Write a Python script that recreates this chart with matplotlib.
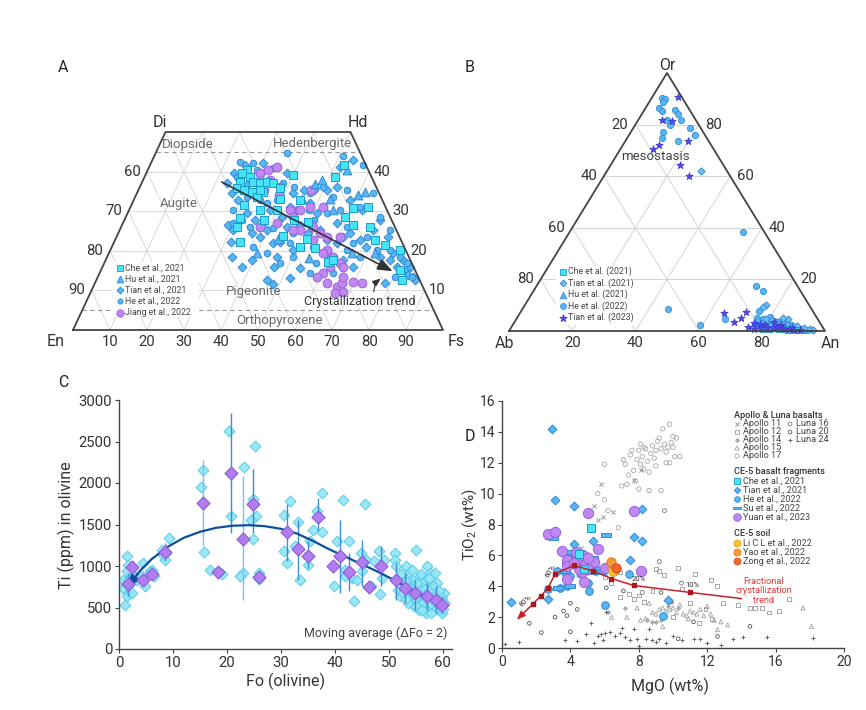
import matplotlib
matplotlib.use('Agg')
import matplotlib.pyplot as plt
import numpy as np
from matplotlib.patches import Rectangle

plt.rcParams['font.family'] = ['Roboto', 'DejaVu Sans']
plt.rcParams['mathtext.fontset'] = 'custom'
plt.rcParams['mathtext.rm'] = 'Roboto'
plt.rcParams['mathtext.it'] = 'Roboto:italic'
plt.rcParams['mathtext.bf'] = 'Roboto:bold'
TXT = '#333333'

# ===================== Panel A data (Wo, Fs in mol%) =====================
a_che_wo = [40.4,39.6,38.7,37.5,37.5,37.0,37.5,37.0,35.8,35.4,34.9,34.9,35.8,39.1,32.8,31.6,28.2,26.1,30.3,30.3,27.8,27.3,38.7,41.7,30.7,31.0,28.6,26.5,26.1,22.7,21.5,20.2,12.6,15.2,23.7,20.9,20.6,17.2,17.7,23.1,22.3,33.5,33.2,27.8,35.4]
a_che_fs = [26.7,25.8,28.5,26.4,30.0,32.0,33.6,35.6,26.4,28.4,30.8,34.0,38.1,40.0,44.9,30.3,31.0,31.2,35.4,39.9,45.7,49.9,51.5,52.4,60.2,64.3,59.2,62.5,67.2,70.3,73.6,78.3,82.5,80.8,45.0,50.9,55.1,60.4,61.5,51.6,34.0,32.9,39.3,37.6,32.9]
a_hu_wo = [36.9,37.9,40.4,33.2,30.3,34.1,34.9,19.4,18.1,23.1,19.4,19.4,33.2]
a_hu_fs = [47.0,48.3,53.9,52.8,55.2,60.1,61.5,40.0,54.6,43.9,65.6,71.9,45.2]
a_tian_wo = [39.6,34.5,26.5,25.2,22.3,18.5,16.0,17.7,12.6,11.6,
             29.5,24.4,23.6,25.2,21.9,22.3,26.1,31.1,30.3,35.4,
             32.0,29.5,25.2,22.7,21.9,23.6,24.4,22.7,21.0,18.5,
             17.7,16.0,15.2,13.5,16.0,17.7,42.9,41.2,36.2,35.4,
             34.5,39.1,36.6,32.8,27.8,30.3,28.6,26.5,24.4,20.2,
             18.5,15.6,19.4,17.7,16.0,25.2,27.8,23.6,30.3,26.9,
             42.1,39.6,37.0,41.7,35.4,32.8,11.8,19.4,12.6,13.9,
             13.1,16.0]
a_tian_fs = [23.6,25.6,28.7,30.7,31.5,33.6,37.6,39.5,46.0,48.3,
             32.2,36.1,38.8,39.7,43.2,44.8,44.7,43.1,45.3,44.6,
             48.1,51.1,54.1,57.2,60.3,61.3,62.7,66.2,68.8,73.7,
             76.8,79.5,82.6,85.2,83.1,80.4,54.3,51.5,53.2,47.3,
             42.3,31.0,28.6,28.3,35.3,38.1,42.1,48.1,51.4,49.4,
             45.8,53.6,58.9,64.2,67.8,68.5,69.1,73.4,62.9,57.8,
             30.4,38.0,23.0,25.7,50.9,58.5,78.4,76.9,86.1,83.7,
             52.1,46.2]
a_he_wo = [42.5,42.1,44.8,44.0,41.7,38.7,40.4,40.8,36.2,34.5,
           36.2,33.7,35.4,31.1,34.5,28.6,33.7,32.8,32.0,32.8,
           30.3,27.8,26.1,25.7,25.7,24.4,27.8,29.5,30.3,26.1,
           21.9,23.6,20.2,20.2,18.5,16.8,13.5,13.5,21.0,19.4,
           16.8,18.5,14.3,16.8,14.3,20.2,18.5,21.0,30.3,30.3,
           25.2,26.9,37.0,26.9,21.9]
a_he_fs = [23.9,27.7,35.4,51.1,57.6,24.9,29.4,33.7,41.5,46.9,
           49.6,53.5,56.3,62.0,63.9,68.7,30.1,34.1,36.4,38.6,
           28.2,31.7,34.8,37.7,41.3,47.3,51.1,53.8,57.0,60.9,
           64.8,67.6,72.0,75.6,79.1,81.8,84.8,80.3,38.2,42.7,
           47.5,50.3,57.0,57.4,63.2,63.9,68.3,54.4,44.4,48.6,
           73.1,29.9,38.3,38.0,47.7]
a_jiang_wo = [39.6,40.4,41.2,37.9,36.2,35.4,34.1,30.3,30.3,31.1,
              28.6,25.2,26.9,26.1,24.4,23.6,22.7,35.4,26.1,26.9,
              25.2,20.2,19.4,18.5,16.8,16.0,16.0,14.3,13.5,11.8,
              10.9,11.8,9.7,9.4,12.2,11.8,13.5,23.6,31.1]
a_jiang_fs = [30.8,32.6,34.4,34.3,37.9,33.8,38.5,43.5,46.2,48.6,
              45.2,48.7,50.7,51.9,54.6,56.8,53.6,46.5,37.5,41.6,
              46.9,58.5,58.0,61.1,63.7,65.1,61.5,60.5,59.1,62.7,
              65.8,66.7,68.2,66.1,69.7,72.1,66.3,60.4,52.1]
a_ticks = [10, 20, 30, 40, 50, 60, 70, 80, 90]
a_legend = ['Che et al., 2021', 'Hu et al., 2021', 'Tian et al., 2021', 'He et al., 2022', 'Jiang et al., 2022']

# ===================== Panel B data (An, Or in mol%) =====================
b_he_an = [3.2,4.5,4.4,4.4,5.6,9.7,11.5,13.6,9.2,11.0,18.0,20.9,10.0,11.1,16.8,54.9,69.4,72.7,75.3,46.1,59.3,66.0,
           76,77,78,79,80,81,82,83,84,85,86,87,88,89,90,91,92,93,94,78,80,82,84,86,88]
b_he_or = [90.2,89.8,88.9,86.3,85.4,85.7,84.1,81.8,81.8,79.8,78.5,76.0,77.3,74.9,73.5,38.5,17.4,15.5,7.9,8.6,2.3,4.6,
           5.0,3.8,4.5,3.0,3.5,2.5,2.8,2.0,2.2,1.5,1.8,1.2,1.4,0.9,1.0,0.7,0.6,0.5,0.4,2.0,5.5,4.0,3.5,3.0,2.4]
b_tian21_an = [29.7,76.2,75.8,77,79,81,83,85,87,89,91,93,95,96,90,86,84,80]
b_tian21_or = [62.1,10.2,9.4,2.5,4.8,4.2,3.4,3.0,2.2,1.8,1.2,1.0,0.6,0.5,2.0,4.6,5.2,1.5]
b_che_an = [77,79,81,83,85,87,89,91,82,86]
b_che_or = [1.5,2.0,1.0,1.2,0.8,0.9,0.6,0.3,1.8,1.3]
b_hu_an = [76,78,80,84,88,82]
b_hu_or = [2.2,1.0,0.8,1.0,0.5,0.6]
b_tian23_an = [8.1,7.6,10.9,20.0,11.3,10.1,21.9,27.0,64.7,69.5,70.9,71.4,74.9,76,78,80,81,83,84,85,86,87,88,89,90,82,79,77,92]
b_tian23_or = [90.6,81.8,81.3,73.5,72.2,70.7,64.4,60.2,6.8,3.6,4.9,7.2,1.7,3.2,2.8,2.2,1.6,1.0,1.4,2.4,1.0,0.6,0.9,1.2,0.4,3.5,1.2,0.8,0.3]
b_ticks = [20, 40, 60, 80]
b_legend = ['Che et al. (2021)', 'Tian et al. (2021)', 'Hu et al. (2021)', 'He et al. (2022)', 'Tian et al. (2023)']

# ===================== Panel C data =====================
c_fo = [0.8,1.4,1.7,1.7,1.4,1.1,1.7,2.0,2.4,3.0,3.3,4.2,4.5,4.8,5.8,6.4,6.1,0.8,1.7,2.4,1.4,
        7.9,8.2,8.8,9.2,8.5,
        15.5,15.2,15.7,16.9,19.1,
        20.4,20.7,23.2,22.9,22.5,
        25.2,24.8,25.3,24.5,24.9,26.0,26.0,
        30.6,31.6,30.5,31.1,32.7,33.1,33.6,
        35.0,35.1,35.4,35.9,36.6,37.6,37.6,
        39.9,40.4,41.5,41.8,41.9,42.6,43.5,43.2,44.1,44.9,45.5,45.0,45.7,46.7,47.2,
        48.1,48.4,48.7,49.1,51.1,51.2,51.4,51.5,51.7,52.0,
        52.5,52.8,53.1,53.4,53.7,53.9,54.3,54.6,54.9,55.1,55.4,55.7,55.9,56.2,56.5,56.8,57.1,57.2,57.6,57.7,
        58.0,58.3,58.6,58.8,59.3,59.6,59.9,60.2,53.4,54.5,55.6,56.8,57.8,59.0,60.2,
        52.2,52.6,53.0,53.6,54.0,54.2,54.8,55.3,55.8,56.0,56.3,56.7,57.0,57.4,57.9,58.2,58.5,58.9,59.2,59.5,
        59.8,60.0,60.3,55.0,53.2,52.3,54.4,56.1,57.5,58.7]
c_ti = [834,1115,1015,674,634,533,754,875,915,855,834,875,1035,754,935,875,955,734,834,674,935,
        1195,1135,1155,1336,1075,
        2158,1957,1167,947,907,
        2631,1604,2198,915,875,
        2447,1813,1604,1556,1328,915,846,
        1616,1789,1175,1035,1235,1536,834,
        1007,1115,1296,1428,1657,1877,1404,
        762,1304,1797,955,874,1304,574,854,834,1155,1749,935,1075,754,1055,
        1175,662,854,1075,1155,1075,995,834,714,634,
        874,754,995,674,915,594,834,513,754,1187,674,874,553,794,634,433,995,754,513,915,
        674,574,915,674,473,594,433,553,834,674,473,614,433,794,674,
        900,680,820,560,720,950,600,800,700,900,560,720,600,850,540,760,640,500,700,520,
        620,480,560,520,600,760,660,470,700,560]
c_ma_fo = [1.6,2.5,4.4,6.2,8.5,15.5,18.3,20.7,22.9,24.9,26.0,31.1,33.2,35.1,36.9,39.7,40.9,42.7,45.0,46.4,48.6,51.3,52.9,54.8,57.1,58.8,59.9]
c_ma_ti = [782,983,834,902,1167,1757,922,2118,1328,1749,866,1404,1203,1123,1596,1003,1123,922,1043,742,1003,834,734,674,642,594,525]
c_err_lo = [634,900,np.nan,np.nan,1055,1235,np.nan,1396,586,1396,np.nan,1055,834,975,1416,np.nan,674,694,754,np.nan,754,594,553,473,473,433,433]
c_err_hi = [915,1060,np.nan,np.nan,1275,2278,np.nan,2848,2086,2166,np.nan,1749,1556,1296,1817,np.nan,1556,1155,1316,np.nan,1235,1035,915,834,794,754,634]
c_fit_fo = [60.0,57.0,54.0,51.0,48.0,45.0,42.0,39.0,36.0,33.0,30.0,27.0,24.0,21.0,18.0,15.0,12.0,9.0,6.0,4.0,2.2]
c_fit_ti = [525,620,720,830,930,1020,1110,1200,1300,1390,1448,1480,1492,1485,1460,1412,1340,1230,1080,950,800]
c_fit_end = (1.4, 735)

# ===================== Panel D data (MgO, TiO2 wt%) =====================
d_a17_mgo = [7.2,7.4,7.5,7.7,7.8,7.9,8.0,8.1,8.2,8.3,8.4,8.5,8.6,8.7,8.8,8.9,9.0,9.1,9.2,9.3,9.4,9.5,9.6,9.7,9.8,9.9,10.0,10.1,10.2,10.4,9.8,9.6,8.0,7.3,7.0,8.6,9.0,7.6,8.3,7.1,6.0,5.6,6.2,6.0,6.8,9.3,10.0,8.1]
d_a17_tio2 = [11.9,11.2,12.5,11.5,10.8,12.2,12.8,11.9,12.4,11.6,12.9,12.1,11.4,12.6,13.1,12.3,12.8,13.4,13.6,12.9,14.2,13.2,12.7,13.0,12.0,13.3,13.0,12.4,13.6,12.4,14.5,12.0,10.3,10.6,10.5,10.2,11.8,12.8,13.0,12.2,11.9,10.0,8.9,9.6,7.8,10.2,13.7,13.2]
d_a11_mgo = [5.8,5.4,5.9,7.7,8.1,6.5,5.6,4.6]
d_a11_tio2 = [10.6,9.2,8.5,10.9,11.5,8.8,8.3,6.5]
d_a12_mgo = [6.0,6.4,6.9,7.4,7.7,8.0,8.3,9.0,9.2,9.5,10.3,10.5,11.0,11.3,11.9,12.2,12.6,12.9,13.8,14.5,14.8,15.2,15.6,16.2,16.8,6.9,8.8,10.0,11.5,12.3]
d_a12_tio2 = [4.6,4.2,3.3,3.5,3.2,3.4,3.0,5.1,5.0,4.7,5.2,3.8,2.9,4.8,2.5,4.4,4.0,2.9,2.8,2.6,2.6,2.6,2.3,2.4,3.2,4.9,3.7,2.0,1.6,1.9]
d_a14_mgo = [8.5,9.0,9.3,8.8,9.7,10.3,6.2,7.2]
d_a14_tio2 = [1.8,1.7,1.8,1.7,2.7,2.6,2.3,2.6]
d_a15_mgo = [8.8,9.0,9.2,9.4,9.6,9.8,10.0,10.2,10.4,10.6,10.8,11.0,11.2,11.4,11.6,11.8,12.0,12.2,12.4,12.6,13.2,17.6,18.1,8.4,8.6,9.9,7.3,6.4,7.9,8.1,12.8,9.4,10.9]
d_a15_tio2 = [2.3,2.2,2.5,2.6,2.4,2.5,2.6,2.3,2.8,2.2,2.1,2.4,2.3,2.2,2.5,2.1,2.7,2.2,1.8,1.2,1.5,2.6,1.4,1.9,2.9,3.0,2.0,2.0,2.6,1.8,1.7,1.4,1.9]
d_l16_mgo = [9.2,6.6,5.5,4.5,8.2,10.5,9.5]
d_l16_tio2 = [5.6,4.8,4.8,4.7,3.6,4.2,8.9]
d_l20_mgo = [1.6,2.3,3.6,3.8,4.0,4.4,4.0,3.1,9.9,11.2,12.6,10.3,14.5,9.3,7.1,6.1,6.8]
d_l20_tio2 = [1.6,1.0,2.4,2.1,1.05,2.5,2.9,2.0,3.0,1.7,0.75,0.6,1.4,3.6,3.7,3.9,5.0]
d_l24_mgo = [0.2,1.0,3.7,4.4,5.2,5.6,5.9,6.0,6.3,6.6,6.9,7.2,7.5,7.7,7.9,8.4,8.8,9.2,9.6,10.0,10.5,11.2,11.6,12.0,12.8,13.5,14.1,15.5,18.2,6.1,5.4,4.9,5.8,7.0,8.0,8.6,9.0]
d_l24_tio2 = [0.25,0.4,0.5,0.45,1.6,0.8,0.5,1.0,1.05,0.8,0.95,0.7,0.5,1.2,0.6,0.6,0.55,0.6,0.3,0.8,0.5,0.6,0.6,0.3,0.2,0.6,0.7,0.7,0.65,2.3,0.3,0.9,0.9,1.3,0.1,1.2,0.4]
d_tian_mgo = [2.9,3.1,4.2,4.2,7.7,8.2,7.5,5.3,0.5,2.7,9.7,8.2]
d_tian_tio2 = [14.2,9.6,9.2,6.75,7.2,6.9,5.7,6.9,3.0,3.2,3.1,9.0]
d_he_mgo = [2.7,3.4,3.2,3.8,4.0,4.2,5.1,5.0,6.0,9.4,7.4,4.9,5.5,4.5,4.6,4.0,4.6,3.7]
d_he_tio2 = [3.8,3.9,5.0,4.0,6.1,6.1,3.7,4.2,2.8,2.05,4.8,5.3,5.1,5.5,4.8,4.65,5.9,4.9]
d_su_mgo = [2.8,3.0,6.1,3.8,3.7,3.25,4.0,4.6,5.2,5.8,4.0,4.3,4.5,3.8,4.8,5.3]
d_su_tio2 = [7.2,7.1,7.3,5.6,5.0,3.9,5.3,5.3,4.9,4.9,4.0,6.2,6.2,6.2,5.7,5.8]
d_che_mgo = [5.2,4.5,4.8]
d_che_tio2 = [7.8,6.1,5.1]
d_yuan_mgo = [5.0,7.7,2.7,3.1,3.5,3.8,3.8,3.8,4.3,4.6,4.8,4.9,5.4,5.6,6.0,8.1,4.8,4.7,5.0,4.5,4.2,5.0]
d_yuan_tio2 = [8.75,8.9,7.4,7.5,6.3,5.7,5.3,4.5,6.2,5.7,5.95,5.45,5.6,6.4,5.2,5.0,4.3,4.9,5.1,5.1,5.5,5.8]
d_li_mgo, d_li_tio2 = [6.5], [5.0]
d_yao_mgo, d_yao_tio2 = [6.4], [5.55]
d_zong_mgo, d_zong_tio2 = [6.65], [5.15]
d_fc_mgo = [14.0, 11.0, 7.7, 6.4, 5.3, 4.2, 3.1, 2.7, 2.3, 1.8, 0.75]
d_fc_tio2 = [3.2, 3.6, 4.05, 4.5, 5.0, 5.35, 4.8, 3.9, 3.4, 2.85, 1.7]
d_fc_labels = ['10%', '20%', '60%', '80%']

# ===================== figure =====================
fig = plt.figure(figsize=(8.66, 7.10), dpi=100)

def add_ax(l, t, r, b):
    return fig.add_axes([l / 866, 1 - b / 710, (r - l) / 866, (b - t) / 710])

def ftext(x, y, s, **kw):
    kw.setdefault('color', TXT)
    fig.text(x / 866, 1 - y / 710, s, **kw)

for lab, (x, y) in zip('ABCD', [(63, 68), (470, 68), (63, 383), (470, 437)]):
    ftext(x, y, lab, fontsize=11.5, ha='center', va='center', color='#222222')

GRID = '#d4d4d4'
CYAN_FC, CYAN_EC = '#44e4f4', '#1a9cc8'
BLUE_FC, BLUE_EC = '#58b6f2', '#2f8ad8'
PURP_FC, PURP_EC = '#bf88f2', '#9a62d8'

# ---------------- Panel A ----------------
axA = add_ax(73, 132, 443, 330)
axA.set_xlim(0, 100); axA.set_ylim(0, 50); axA.axis('off')

def qx(wo, fs):
    return np.asarray(fs, float) + np.asarray(wo, float) / 2

for w in [10, 20, 30, 40]:
    axA.plot([w / 2, 100 - w / 2], [w, w], color=GRID, lw=0.6, zorder=0)
for v in range(10, 100, 10):
    wmax = min(50, 100 - v)
    axA.plot([v, v + wmax / 2], [0, wmax], color=GRID, lw=0.6, zorder=0)
    axA.plot([100 - v, 100 - v - wmax / 2], [0, wmax], color=GRID, lw=0.6, zorder=0)
for w in [45, 5]:
    axA.plot([w / 2, 100 - w / 2], [w, w], color='#9a9a9a', lw=0.8, ls=(0, (4, 3)), zorder=1)
axA.plot([0, 100, 75, 25, 0], [0, 0, 50, 50, 0], color='#444444', lw=1.3, zorder=6, clip_on=False)

kwA = dict(clip_on=False, linewidths=0.7, zorder=3)
axA.scatter(qx(a_tian_wo, a_tian_fs), a_tian_wo, marker='D', s=20, fc=BLUE_FC, ec=BLUE_EC, **kwA)
axA.scatter(qx(a_he_wo, a_he_fs), a_he_wo, marker='o', s=22, fc=BLUE_FC, ec=BLUE_EC, **kwA)
axA.scatter(qx(a_jiang_wo, a_jiang_fs), a_jiang_wo, marker='o', s=40, fc=PURP_FC, ec=PURP_EC, **kwA)
axA.scatter(qx(a_hu_wo, a_hu_fs), a_hu_wo, marker='^', s=40, fc=BLUE_FC, ec=BLUE_EC, **kwA)
axA.scatter(qx(a_che_wo, a_che_fs), a_che_wo, marker='s', s=34, fc=CYAN_FC, ec=CYAN_EC, **kwA)

# crystallization trend arrow (Wo, Fs)
t0, t1 = (37.7, 20.7), (14.5, 79.8)
axA.annotate('', xy=(qx(*t1), t1[0]), xytext=(qx(*t0), t0[0]),
             arrowprops=dict(arrowstyle='-|>,head_length=0.9,head_width=0.35', color='#333333', lw=1.2), zorder=5)
axA.annotate('', xy=(83.8, 13.4), xytext=(81.3, 8.9),
             arrowprops=dict(arrowstyle='-|>,head_length=0.5,head_width=0.2', color='#333333', lw=0.8,
                             connectionstyle='arc3,rad=-0.3'), zorder=5)
axA.text(77.6, 7.15, 'Crystallization trend', fontsize=9, ha='center', va='center', color='#333333', zorder=7)

for s, x, y in [('Diopside', 31.0, 46.9), ('Hedenbergite', 64.7, 47.1), ('Augite', 28.5, 32.0),
                ('Pigeonite', 48.9, 9.7), ('Orthopyroxene', 55.9, 2.35)]:
    axA.text(x, y, s, fontsize=9.5, ha='center', va='center', color='#6a6a6a', zorder=2)

for w in [40, 30, 20, 10]:
    axA.text(w / 2 - 1.8, w, str(100 - w), fontsize=10.7, ha='right', va='center', color=TXT)
    axA.text(100 - w / 2 + 1.3, w, str(w), fontsize=10.7, ha='left', va='center', color=TXT)
for f in a_ticks:
    axA.text(f, -3.0, str(f), fontsize=10.7, ha='center', va='center', color=TXT)
axA.text(-4.6, -3.0, 'En', fontsize=11.5, ha='center', va='center', color=TXT)
axA.text(103.6, -3.0, 'Fs', fontsize=11.5, ha='center', va='center', color=TXT)
axA.text(23.5, 52.5, 'Di', fontsize=11.5, ha='center', va='center', color=TXT)
axA.text(77.0, 52.5, 'Hd', fontsize=11.5, ha='center', va='center', color=TXT)

axA.add_patch(Rectangle((10.5, 3.2), 23.5, 14.0, fc='white', ec='none', zorder=2))
legA = [('s', CYAN_FC, CYAN_EC, 24), ('^', BLUE_FC, BLUE_EC, 24), ('D', BLUE_FC, BLUE_EC, 13),
        ('o', BLUE_FC, BLUE_EC, 14), ('o', PURP_FC, PURP_EC, 28)]
for i, (lab, (m, fc, ec, s)) in enumerate(zip(a_legend, legA)):
    y = 15.6 - i * 2.8
    axA.scatter([12.7], [y], marker=m, s=s, fc=fc, ec=ec, linewidths=0.6, zorder=4, clip_on=False)
    axA.text(14.0, y, lab, fontsize=6.3, ha='left', va='center', color='#444444', zorder=4)

# ---------------- Panel B ----------------
axB = add_ax(509, 73, 825, 331)
axB.set_xlim(0, 100); axB.set_ylim(0, 100); axB.axis('off')

def tx(an, orr):
    return np.asarray(an, float) + np.asarray(orr, float) / 2

for o in b_ticks:
    axB.plot([o / 2, 100 - o / 2], [o, o], color=GRID, lw=0.7, zorder=0)
for v in b_ticks:
    axB.plot([v, v + (100 - v) / 2], [0, 100 - v], color=GRID, lw=0.7, zorder=0)
    axB.plot([100 - v, (100 - v) / 2], [0, 100 - v], color=GRID, lw=0.7, zorder=0)
axB.plot([0, 100, 50, 0], [0, 0, 100, 0], color='#444444', lw=1.3, zorder=6, clip_on=False)

kwB = dict(clip_on=False, linewidths=0.6, zorder=3)
axB.scatter(tx(b_he_an, b_he_or), b_he_or, marker='o', s=20, fc=BLUE_FC, ec=BLUE_EC, **kwB)
axB.scatter(tx(b_tian21_an, b_tian21_or), b_tian21_or, marker='D', s=14, fc='#6fbcf2', ec=BLUE_EC, **kwB)
axB.scatter(tx(b_che_an, b_che_or), b_che_or, marker='s', s=18, fc=CYAN_FC, ec=CYAN_EC, **kwB)
axB.scatter(tx(b_hu_an, b_hu_or), b_hu_or, marker='^', s=20, fc=BLUE_FC, ec=BLUE_EC, **kwB)
axB.scatter(tx(b_tian23_an, b_tian23_or), b_tian23_or, marker='*', s=30, fc='#5448f0', ec='#4038d8', **kwB)

for o in b_ticks:
    axB.text(o / 2 - 2.2, o, str(100 - o), fontsize=10.7, ha='right', va='center', color=TXT)
    axB.text(100 - o / 2 + 2.2, o, str(o), fontsize=10.7, ha='left', va='center', color=TXT)
for a in b_ticks:
    axB.text(a, -4.7, str(a), fontsize=10.7, ha='center', va='center', color=TXT)
axB.text(-1.5, -4.7, 'Ab', fontsize=11.5, ha='center', va='center', color=TXT)
axB.text(101.6, -4.7, 'An', fontsize=11.5, ha='center', va='center', color=TXT)
axB.text(50, 103.0, 'Or', fontsize=11.5, ha='center', va='center', color=TXT)
axB.text(46.2, 67.6, 'mesostasis', fontsize=9.5, ha='center', va='center', color='#444444', zorder=4)

axB.add_patch(Rectangle((15.0, 2.5), 24.0, 22.8, fc='white', ec='none', zorder=2))
legB = [('s', CYAN_FC, CYAN_EC, 18), ('D', '#6fbcf2', BLUE_EC, 12), ('^', BLUE_FC, BLUE_EC, 22),
        ('o', BLUE_FC, BLUE_EC, 18), ('*', '#5448f0', '#4038d8', 30)]
for i, (lab, (m, fc, ec, s)) in enumerate(zip(b_legend, legB)):
    y = 23.0 - i * 4.45
    axB.scatter([17.0], [y], marker=m, s=s, fc=fc, ec=ec, linewidths=0.6, zorder=4, clip_on=False)
    axB.text(18.7, y, lab, fontsize=6.3, ha='left', va='center', color='#444444', zorder=4)

# ---------------- Panel C ----------------
axC = add_ax(119, 400, 452, 649)
axC.set_xlim(0, 61.7); axC.set_ylim(0, 3000)
for sp in ['top', 'right']:
    axC.spines[sp].set_visible(False)
for sp in ['left', 'bottom']:
    axC.spines[sp].set_color('#444444'); axC.spines[sp].set_linewidth(1.0)
axC.set_xticks(range(0, 61, 10)); axC.set_yticks(range(0, 3001, 500))
axC.tick_params(labelsize=10.7, colors='#444444', labelcolor=TXT, length=3, width=0.8, pad=2)

axC.scatter(c_fo, c_ti, marker='D', s=30, fc='#92e6f6', ec='#58cbe8', linewidths=0.8, alpha=0.9, zorder=2)
ma_fo = np.array(c_ma_fo); lo = np.array(c_err_lo); hi = np.array(c_err_hi)
light = np.isin(np.round(ma_fo, 1), [15.5, 22.9])
for sel, col in [(~light, '#3a8ed4'), (light, '#7cc0ee')]:
    axC.vlines(ma_fo[sel], lo[sel], hi[sel], color=col, lw=1.0, zorder=3)
axC.plot(c_fit_fo, c_fit_ti, color='#0b4f9e', lw=1.6, zorder=4)
axC.annotate('', xy=c_fit_end, xytext=(c_fit_fo[-1], c_fit_ti[-1]),
             arrowprops=dict(arrowstyle='-|>,head_length=0.6,head_width=0.3', color='#0b4f9e', lw=1.6), zorder=4)
axC.scatter(c_ma_fo, c_ma_ti, marker='D', s=44, fc='#b07ef0', ec='#8f5ad6', linewidths=0.8, zorder=5)
axC.text(60.9, 190, 'Moving average (\u0394Fo = 2)', fontsize=9, ha='right', va='center', color='#444444')
ftext(66, 525, 'Ti (ppm) in olivine', fontsize=11.5, rotation=90, ha='center', va='center')
ftext(286, 681, 'Fo (olivine)', fontsize=11.5, ha='center', va='center')

# ---------------- Panel D ----------------
axD = add_ax(502, 401, 844, 648)
axD.set_xlim(0, 20); axD.set_ylim(0, 16)
for sp in ['top', 'right']:
    axD.spines[sp].set_visible(False)
for sp in ['left', 'bottom']:
    axD.spines[sp].set_color('#444444'); axD.spines[sp].set_linewidth(1.0)
axD.set_xticks(range(0, 21, 4)); axD.set_yticks(range(0, 17, 2))
axD.tick_params(labelsize=10, colors='#444444', labelcolor=TXT, length=3, width=0.8, pad=2)

g = dict(linewidths=0.6, zorder=1)
sty = {
    'a11': dict(marker='x', s=9, c='#8c8c8c'),
    'a12': dict(marker='s', s=8, fc='none', ec='#9a9a9a'),
    'a14': dict(marker='D', s=4, fc='#b5b5b5', ec='#a0a0a0'),
    'a15': dict(marker='^', s=9, fc='none', ec='#a4a4a4'),
    'a17': dict(marker='o', s=10, fc='none', ec='#a8a8a8'),
    'l16': dict(marker='o', s=8, fc='none', ec='#7a7a7a'),
    'l20': dict(marker='o', s=7, fc='none', ec='#555555'),
    'l24': dict(marker='+', s=10, c='#555555'),
}
axD.scatter(d_a17_mgo, d_a17_tio2, **sty['a17'], **g)
axD.scatter(d_a15_mgo, d_a15_tio2, **sty['a15'], **g)
axD.scatter(d_a14_mgo, d_a14_tio2, **sty['a14'], **g)
axD.scatter(d_a12_mgo, d_a12_tio2, **sty['a12'], **g)
axD.scatter(d_a11_mgo, d_a11_tio2, **sty['a11'], **g)
axD.scatter(d_l16_mgo, d_l16_tio2, **sty['l16'], **g)
axD.scatter(d_l20_mgo, d_l20_tio2, **sty['l20'], **g)
axD.scatter(d_l24_mgo, d_l24_tio2, **sty['l24'], **g)

bar = [(-1, -0.38), (1, -0.38), (1, 0.38), (-1, 0.38), (-1, -0.38)]
col = {
    'che': dict(marker='s', s=40, fc=CYAN_FC, ec=CYAN_EC),
    'tian': dict(marker='D', s=20, fc=BLUE_FC, ec=BLUE_EC),
    'he': dict(marker='o', s=30, fc=BLUE_FC, ec=BLUE_EC),
    'su': dict(marker=bar, s=55, fc=BLUE_FC, ec=BLUE_EC),
    'yuan': dict(marker='o', s=55, fc=PURP_FC, ec=PURP_EC),
    'li': dict(marker='o', s=45, fc='#f6c62a', ec='#e2a312'),
    'yao': dict(marker='o', s=45, fc='#f59a35', ec='#e07a12'),
    'zong': dict(marker='o', s=45, fc='#f26632', ec='#d64a14'),
}
cz = dict(linewidths=0.7, zorder=3)
axD.scatter(d_he_mgo, d_he_tio2, **col['he'], **cz)
axD.scatter(d_su_mgo, d_su_tio2, **col['su'], **cz)
axD.scatter(d_tian_mgo, d_tian_tio2, **col['tian'], **cz)
axD.scatter(d_yuan_mgo, d_yuan_tio2, **col['yuan'], **cz)
axD.scatter(d_che_mgo, d_che_tio2, **col['che'], **cz)
axD.scatter(d_li_mgo, d_li_tio2, **col['li'], **cz)
axD.scatter(d_yao_mgo, d_yao_tio2, **col['yao'], **cz)
axD.scatter(d_zong_mgo, d_zong_tio2, **col['zong'], **cz)

RED = '#c8232c'
axD.plot(d_fc_mgo[:-1], d_fc_tio2[:-1], color=RED, lw=1.1, zorder=4)
axD.annotate('', xy=(d_fc_mgo[-1], d_fc_tio2[-1]), xytext=(d_fc_mgo[-2], d_fc_tio2[-2]),
             arrowprops=dict(arrowstyle='-|>,head_length=0.5,head_width=0.2', color=RED, lw=1.1), zorder=4)
axD.scatter(d_fc_mgo[1:-1], d_fc_tio2[1:-1], marker='s', s=9, c='#a81a20', zorder=5)
for s, x, y, r in zip(d_fc_labels, [11.15, 8.0, 2.8, 1.4], [4.05, 4.48, 5.0, 3.05], [0, 0, 60, 42]):
    axD.text(x, y, s, fontsize=5.5, rotation=r, ha='center', va='center', color='#333333', zorder=6)
axD.text(15.3, 3.7, 'Fractional\ncrystallization\ntrend', fontsize=6.6, ha='center', va='center',
         color='#e03a3a', linespacing=1.05)

def lx(px):
    return (px - 502) / 342

def ly(py):
    return (648 - py) / 247

tr = axD.transAxes
LFS = 6.6
heads = [('Apollo & Luna basalts', 415), ('CE-5 basalt fragments', 472), ('CE-5 soil', 533)]
for s, py in heads:
    axD.text(lx(733.5), ly(py), s, transform=tr, fontsize=LFS, fontweight='medium', ha='left', va='center', color='#333333')
leg_items = [
    ('Apollo 11', 'a11', 737, 424), ('Apollo 12', 'a12', 737, 432), ('Apollo 14', 'a14', 737, 440),
    ('Apollo 15', 'a15', 737, 448), ('Apollo 17', 'a17', 737, 456),
    ('Luna 16', 'l16', 790, 424), ('Luna 20', 'l20', 790, 432), ('Luna 24', 'l24', 790, 440),
]
for s, k, px, py in leg_items:
    axD.scatter([lx(px)], [ly(py)], transform=tr, clip_on=False, linewidths=0.6, **sty[k])
    axD.text(lx(px + 6), ly(py), s, transform=tr, fontsize=LFS, ha='left', va='center', color='#444444')
leg_col = [('Che et al., 2021', 'che', 481), ('Tian et al., 2021', 'tian', 490), ('He et al., 2022', 'he', 499),
           ('Su et al., 2022', 'su', 508), ('Yuan et al., 2023', 'yuan', 517),
           ('Li C L et al., 2022', 'li', 543), ('Yao et al., 2022', 'yao', 552), ('Zong et al., 2022', 'zong', 561)]
for s, k, py in leg_col:
    st = dict(col[k]); st['s'] = st['s'] * 0.55
    axD.scatter([lx(737)], [ly(py)], transform=tr, clip_on=False, linewidths=0.6, **st)
    axD.text(lx(743), ly(py), s, transform=tr, fontsize=LFS, ha='left', va='center', color='#444444')

ftext(470, 525, 'TiO$_2$ (wt%)', fontsize=11, rotation=90, ha='center', va='center')
ftext(670, 686, 'MgO (wt%)', fontsize=11.5, ha='center', va='center')

fig.savefig('out.png', dpi=100, facecolor='white')
